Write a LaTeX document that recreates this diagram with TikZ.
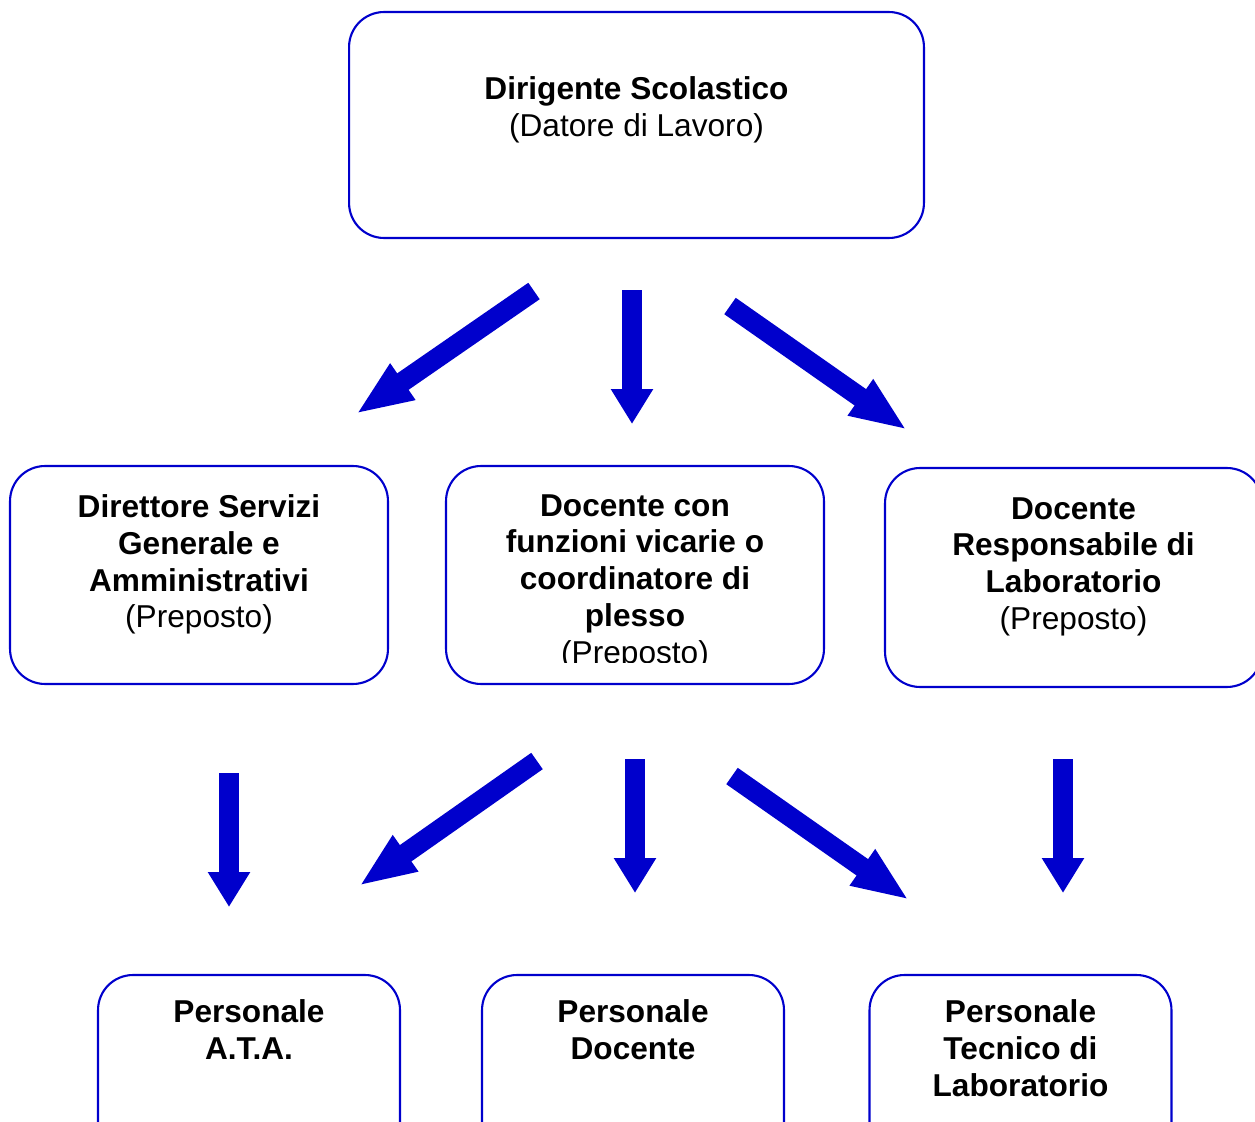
\documentclass[tikz,border=0pt]{standalone}
\usepackage{fontspec}
\setmainfont{Liberation Sans}
\usetikzlibrary{positioning,arrows.meta}
\definecolor{blu}{RGB}{0,0,204}

\begin{document}
\begin{tikzpicture}[x=0.02cm,y=-0.02cm,
        box/.style={draw=blu,line width=1.2pt,rounded corners=0.7cm,inner sep=0pt},
        testo/.style={align=center,inner sep=0pt,font=\fontsize{18}{21}\selectfont\bfseries},
        freccia/.style={draw=blu,line width=0.4cm,-{Triangle[length=0.7cm,width=0.8cm]}},
        obliqua/.style={draw=blu,line width=0.4cm,-{Triangle[length=1.14cm,width=0.8cm]}}]
    \useasboundingbox (0,0) rectangle (1255,1122);
    \clip (0,0) rectangle (1255,1122);
    \node[box,minimum width=11.5cm,minimum height=4.52cm] (ds) at (636.5,125) {};
    \node[testo,below=1.3cm of ds.north] (dsTxt) {Dirigente Scolastico\\{\mdseries (Datore di Lavoro)}};

    \node[box,minimum width=7.56cm,minimum height=4.36cm] (dsga) at (199,575) {};
    \node[testo,below=0.58cm of dsga.north] (dsgaTxt) {Direttore Servizi\\Generale e\\Amministrativi\\{\mdseries (Preposto)}};
    \node[box,minimum width=7.56cm,minimum height=4.36cm] (vic) at (635,575) {};
    \begin{scope}
        \clip (446,466) rectangle (824,662);
        \node[testo,below=0.58cm of vic.north] (vicTxt) {Docente con\\funzioni vicarie o\\coordinatore di\\plesso\\{\mdseries (Preposto)}};
    \end{scope}
    \node[box,minimum width=7.54cm,minimum height=4.38cm] (resp) at (1073.5,577.5) {};
    \node[testo,below=0.6cm of resp.north] (respTxt) {Docente\\Responsabile di\\Laboratorio\\{\mdseries (Preposto)}};

    \node[box,minimum width=6.04cm,minimum height=3.7cm] (ata) at (249,1067.5) {};
    \node[testo,below=0.5cm of ata.north] (ataTxt) {Personale\\A.T.A.};
    \node[box,minimum width=6.04cm,minimum height=3.7cm] (doc) at (633,1067.5) {};
    \node[testo,below=0.5cm of doc.north] (docTxt) {Personale\\Docente};
    \node[box,minimum width=6.04cm,minimum height=3.7cm] (tec) at (1020.5,1067.5) {};
    \node[testo,below=0.5cm of tec.north] (tecTxt) {Personale\\Tecnico di\\Laboratorio};

    \coordinate (ds1) at (534,291);  \coordinate (dsga1) at (356,414);
    \coordinate (ds2) at (632,290);  \coordinate (vic1) at (632,424);
    \coordinate (ds3) at (730,306);  \coordinate (resp1) at (907,430);
    \coordinate (dsga2) at (229,773); \coordinate (ata1) at (229,907);
    \coordinate (vic2) at (537,761);  \coordinate (ata2) at (359,886);
    \coordinate (vic3) at (635,759);  \coordinate (doc1) at (635,893);
    \coordinate (vic4) at (732,776);  \coordinate (tec1) at (909,900);
    \coordinate (resp2) at (1063,759); \coordinate (tec2) at (1063,893);

    \draw[obliqua] (ds1) -- (dsga1);
    \draw[freccia] (ds2) -- (vic1);
    \draw[obliqua] (ds3) -- (resp1);
    \draw[freccia] (dsga2) -- (ata1);
    \draw[obliqua] (vic2) -- (ata2);
    \draw[freccia] (vic3) -- (doc1);
    \draw[obliqua] (vic4) -- (tec1);
    \draw[freccia] (resp2) -- (tec2);
\end{tikzpicture}
\end{document}
